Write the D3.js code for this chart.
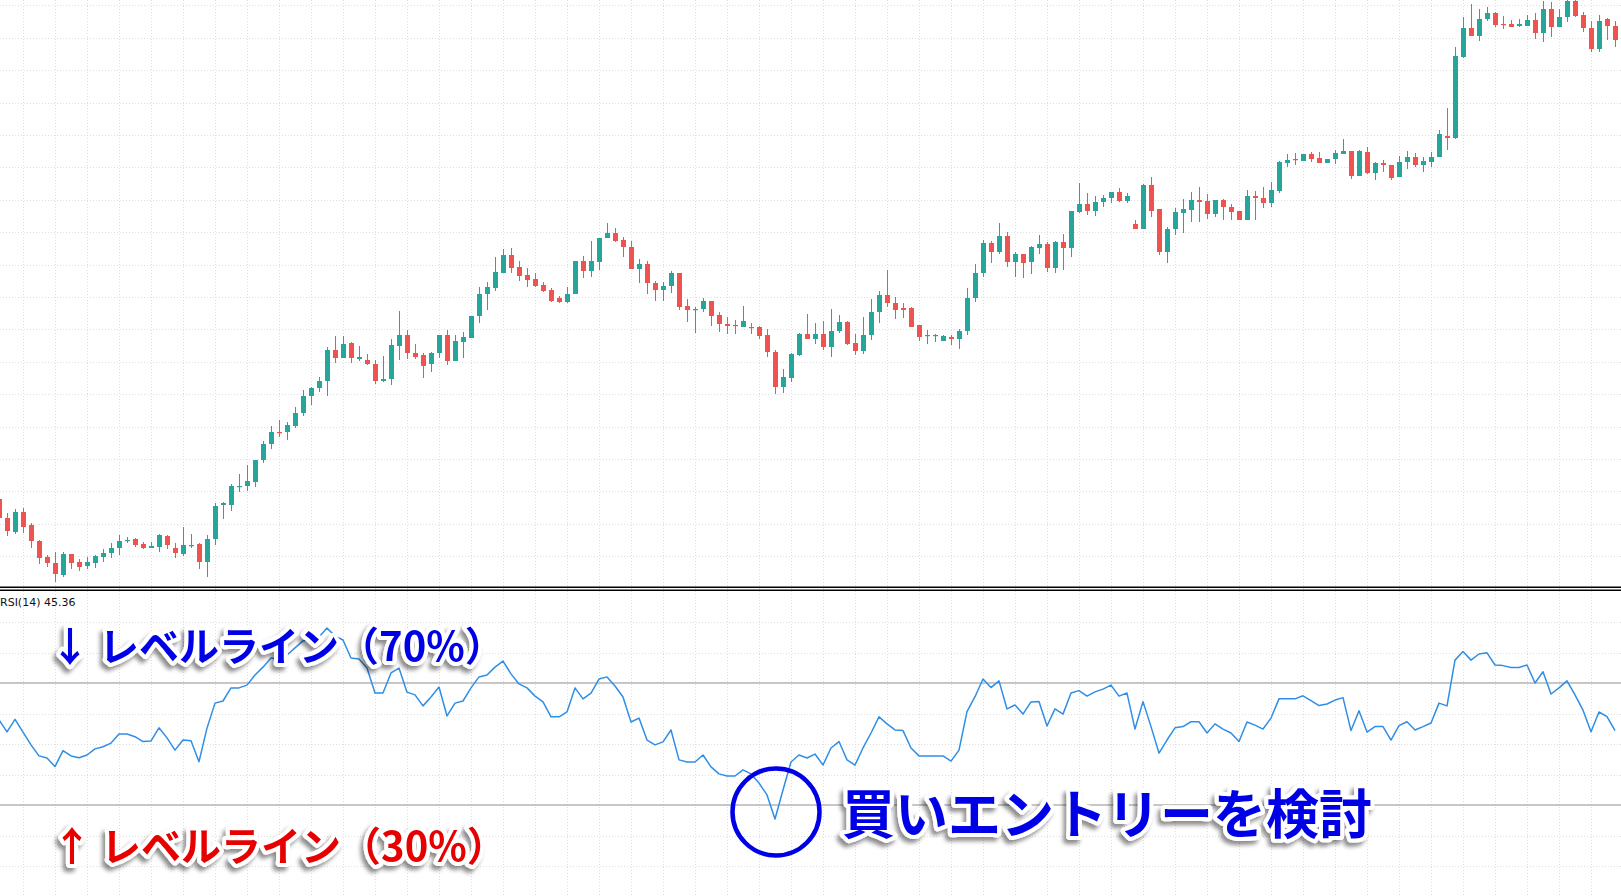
<!DOCTYPE html>
<html><head><meta charset="utf-8">
<script src="https://cdn.jsdelivr.net/npm/d3@7"></script>
<style>html,body{margin:0;padding:0;background:#fff;overflow:hidden}</style>
</head><body>
<svg id="c" width="1621" height="896"></svg>
<script>
// bar index runs from -1 (partially cut at the left edge) to 201
const firstIndex = -1;
const openVals = [101,82,68,88,75,59,43,37,25,46,38,34,37,43,47,52,59,61,56,52,53,64,52,46,54,56,38,61,95,95,113.5,114,118,140,156,168,168,174,187,204,212,219,250,242,257,241,240,236,219,221,254,265,247,245,236,247,265,239,258,262,284,306,312,327,345,333,325,321,315,310,302,298,306,339,329,338,362,367,360,353,331,336,317,310,314,327,294,290,291,299,285,276,275,273,273,273,265,248,213,222,245,266,261,266,253,269,278,257,249,265,288,305,297,292,292,275,264,264,259,263,261,269,302,327,357,348,364,338,346,338,352,356,332,358,352,388,396,389,398,402,408,399,376,371,415,391,348,371,387,390,400,399,386,400,393,389,380,404,402,397,409,437,441,439,446,442,437,441,446,449,424,448,427,437,435,423,438,443,435,438,443,464,462,543,572,564,581,587,576,576,574,574,580,567,591,573,583,599,585,572,551,581,574];
const highVals = [106,87,91,92,77,60,45,48,48,46,41,43,45,51,57,65,63,62,58,58,66,65,57,73,66,57,65,97,98,116,126,135,140,159,174,180,178,193,210,213,223,253,264,264,258,254,246,240,244,261,289,270,256,247,248,265,270,265,268,284,313,318,343,351,352,339,332,327,318,312,304,313,339,344,359,362,377,372,363,359,341,339,319,318,329,327,301,293,302,299,288,283,280,294,277,274,271,250,231,247,267,286,277,279,291,285,279,266,283,301,309,330,303,297,293,275,270,266,265,265,271,312,336,360,359,377,368,348,346,354,365,358,359,366,389,417,407,404,405,408,412,407,380,416,423,391,373,392,401,408,413,406,400,401,396,389,410,409,413,418,439,446,447,446,448,448,441,450,461,449,450,453,438,440,435,444,449,447,443,448,470,492,553,583,596,591,593,588,584,580,581,585,587,599,598,591,600,600,588,579,585,582,579];
const lowVals = [79,64,66,67,52,36,33,18,23,31,29,31,32,38,42,45,57,53,51,52,48,51,42,44,52,31,23,55,81,89,108,109,113,137,151,163,160,172,184,195,208,204,237,242,237,239,235,216,218,215,240,241,241,222,228,242,235,239,242,262,277,290,309,327,327,319,313,313,308,298,297,297,306,322,323,330,362,358,343,331,317,306,299,299,307,290,278,267,288,274,268,266,266,273,266,261,243,206,207,218,244,261,256,250,243,267,255,245,246,260,277,293,281,282,273,259,256,258,259,255,251,265,298,323,337,346,333,323,322,326,346,328,327,330,343,387,385,384,393,397,398,397,371,371,383,345,337,365,367,378,378,381,383,380,380,380,380,380,392,393,407,433,435,439,438,437,437,436,446,421,424,426,420,428,420,423,431,433,428,433,443,450,461,542,564,559,579,573,571,573,573,574,561,558,563,573,578,583,568,548,548,560,553];
const closeVals = [82,69,88,73,59,42,37,26,46,37,33,38,44,47,52,59,60,55,52,54,65,55,47,55,55,38,61,94,97,114,114,119,140,156,168,167,175,187,204,212,219,250,242,256,242,243,236,219,221,255,265,247,243,234,247,265,239,259,263,284,306,313,328,345,332,324,320,314,309,299,298,306,339,329,339,362,367,359,353,331,336,317,310,314,327,293,290,291,299,284,276,274,274,279,272,264,248,213,223,246,266,261,266,253,269,278,256,249,265,288,305,297,290,290,273,263,265,265,264,261,269,302,327,357,348,364,338,346,337,353,356,332,358,352,389,396,389,398,402,408,399,404,371,415,389,348,371,388,391,400,398,386,400,393,388,380,404,402,397,410,438,440,440,446,441,437,441,447,449,424,449,427,437,435,422,438,443,435,439,443,466,462,544,572,564,581,587,575,575,573,576,580,567,591,573,583,599,584,572,551,579,574,560];
const rsiVals = [57.9,54.0,58.1,53.9,49.7,46.1,45.4,42.6,47.8,46.1,45.5,46.4,48.4,49.1,50.3,53.3,53.3,52.4,50.8,51.0,55.3,52.0,48.0,51.3,51.1,44.2,
 55.2,63.4,64.1,68.4,68.4,69.3,72.6,75.2,78.2,77.9,
 79.2,81.5,83.8,84.4,85.1,88.0,85.4,84.1,78.2,77.9,
 74.9,66.7,66.7,73.3,74.9,67.0,66.1,62.5,65.4,68.7,
 59.2,63.4,64.1,68.4,72.0,72.6,75.2,77.2,73.0,69.7,
 68.4,65.7,63.8,58.9,58.9,60.5,68.4,64.8,66.7,71.3,
 72.0,69.0,65.4,57.2,58.5,51.3,49.7,50.7,54.6,44.8,
 44.1,44.1,46.4,42.5,40.2,39.5,39.5,41.5,40.2,37.2,
 33.3,25.4,34.9,44.1,46.4,45.4,46.7,43.1,48.7,50.8,
 44.8,43.1,48.7,53.6,58.9,56.6,54.6,54.4,48.7,46.1,
 46.1,46.1,46.1,44.4,48.0,60.6,65.5,71.3,68.5,70.7,
 61.5,62.8,59.8,63.8,63.9,55.9,61.5,59.8,66.7,67.5,
 65.7,67.1,68.0,69.3,65.7,66.7,54.9,63.9,55.7,47.0,
 51.3,55.3,55.7,57.3,57.3,53.6,56.6,54.9,53.6,50.8,
 57.2,56.2,54.9,58.5,64.8,64.8,64.8,65.8,64.2,62.6,
 63.1,64.4,65.2,54.4,60.9,53.9,55.7,55.7,51.3,56.0,
 57.3,54.6,55.7,56.9,63.4,62.5,77.5,80.3,77.5,79.5,
 79.9,75.9,75.7,75.1,75.1,75.9,70.0,73.7,66.4,68.4,
 70.7,66.1,61.1,54.0,60.5,59.0,54.4];
const rsiLevels = [70, 30];
const rsiLabel = "RSI(14) 45.36";
const labelHigh = "↓ レベルライン（70%）";
const labelLow = "↑ レベルライン（30%）";
const labelEntry = "買いエントリーを検討";
const entryIndex = 96;

const W = 1621, H = 896;
const svg = d3.select('#c');
const n = openVals.length;
const candles = d3.range(n).map(k => ({i: firstIndex + k, o: openVals[k], h: highVals[k], l: lowVals[k], c: closeVals[k], r: rsiVals[k]}));

const x = d3.scaleLinear().domain([firstIndex, 201]).range([-1, 1615]);
const yP = d3.scaleLinear().domain([0, 600]).range([600, 0]);
const yR = d3.scaleLinear().domain([0, 100]).range([896.5, 591.5]);

const defs = svg.append('defs');
const f = defs.append('filter').attr('id','halo').attr('x','-10%').attr('y','-40%').attr('width','120%').attr('height','180%');
f.append('feGaussianBlur').attr('in','SourceAlpha').attr('stdDeviation',2).attr('result','b');
f.append('feOffset').attr('in','b').attr('dx',-3).attr('dy',4).attr('result','o');
f.append('feFlood').attr('flood-color','#000').attr('flood-opacity',0.45);
f.append('feComposite').attr('in2','o').attr('operator','in').attr('result','s');
const m = f.append('feMerge'); m.append('feMergeNode').attr('in','s'); m.append('feMergeNode').attr('in','SourceGraphic');

svg.append('rect').attr('width',W).attr('height',H).attr('fill','#fff');

// grid
const grid = svg.append('g').attr('stroke','#dedede').attr('stroke-width',1).attr('stroke-dasharray','1,2');
const vIdx = d3.range(2, 202, 4);
grid.selectAll('line.v').data(vIdx).join('line')
  .attr('x1', d => Math.round(x(d)) + 0.5).attr('x2', d => Math.round(x(d)) + 0.5)
  .attr('y1', 0).attr('y2', H);
const hTop = d3.range(1, 19).map(k => 11.4 + 32.4 * k);
grid.selectAll('line.h').data(hTop).join('line')
  .attr('x1', 0).attr('x2', W)
  .attr('y1', d => Math.round(yP(d)) + 0.5).attr('y2', d => Math.round(yP(d)) + 0.5);
const hRsi = [10, 20, 40, 50, 60, 80, 90];
grid.selectAll('line.r').data(hRsi).join('line')
  .attr('x1', 0).attr('x2', W)
  .attr('y1', d => Math.round(yR(d)) + 0.5).attr('y2', d => Math.round(yR(d)) + 0.5);

// candles
const up = '#26a69a', dn = '#ef5350';
const cg = svg.append('g');
cg.selectAll('line').data(candles).join('line')
  .attr('x1', d => Math.round(x(d.i)) + 0.5).attr('x2', d => Math.round(x(d.i)) + 0.5)
  .attr('y1', d => yP(d.h)).attr('y2', d => yP(d.l))
  .attr('stroke', d => d.c >= d.o ? up : dn).attr('stroke-width', 1);
cg.selectAll('rect').data(candles).join('rect')
  .attr('x', d => Math.round(x(d.i)) - 2).attr('width', 5)
  .attr('y', d => yP(Math.max(d.o, d.c)))
  .attr('height', d => Math.max(1.2, Math.abs(yP(d.o) - yP(d.c))))
  .attr('fill', d => d.c >= d.o ? up : dn);

// separator
svg.append('rect').attr('x',0).attr('y',586.5).attr('width',W).attr('height',1.5).attr('fill','#000');
svg.append('rect').attr('x',0).attr('y',589.5).attr('width',W).attr('height',1.5).attr('fill','#000');

// RSI levels
svg.selectAll('line.lvl').data(rsiLevels).join('line')
  .attr('x1',0).attr('x2',W).attr('y1', d => yR(d)).attr('y2', d => yR(d))
  .attr('stroke','#b4b4b4').attr('stroke-width',1.6);

// RSI line
svg.append('path').datum(candles)
  .attr('d', d3.line().x(d => x(d.i)).y(d => yR(d.r)))
  .attr('fill','none').attr('stroke','#2f8ee5').attr('stroke-width',1.5).attr('stroke-linejoin','round');

svg.append('text').attr('x',0).attr('y',606).text(rsiLabel)
  .attr('font-family','Tahoma, "DejaVu Sans", sans-serif').attr('font-size',11).attr('fill','#111');

// annotations
function halo(xp, yp, txt, size, color) {
  return svg.append('text').attr('x', xp).attr('y', yp).text(txt)
    .attr('font-family','"Noto Sans CJK JP", sans-serif').attr('font-weight',700)
    .attr('font-size', size).attr('fill', color)
    .attr('stroke','#fff').attr('stroke-width', 8).attr('stroke-linejoin','round')
    .attr('paint-order','stroke fill').attr('filter','url(#halo)');
}
halo(50, 661, labelHigh, 40, '#0000e6');
halo(52, 861, labelLow, 40, '#e60000');
halo(842, 834, labelEntry, 53, '#0000e6');

svg.append('circle').attr('cx', x(entryIndex) + 1).attr('cy', yR(30) + 7).attr('r', 43.5)
  .attr('fill','none').attr('stroke','#0000e6').attr('stroke-width',4.5);
</script>
</body></html>
